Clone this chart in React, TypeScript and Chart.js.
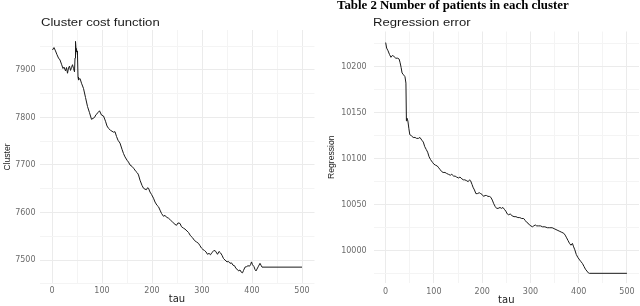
import React, { useEffect, useRef } from "react";
import { Chart, registerables } from "chart.js";

Chart.register(...registerables);

// ---------- data ----------
const clusterTau = [
  1, 4, 7, 10, 13, 16, 19, 22, 24, 27,
  29, 31, 33, 35, 37, 39, 41, 43, 45, 46,
  47, 48, 49, 50, 51, 52, 53, 56, 59, 63,
  67, 71, 75, 79, 82, 85, 88, 92, 95, 99,
  103, 107, 110, 113, 117, 120, 123, 126, 129, 132,
  136, 140, 143, 146, 150, 153, 156, 160, 164, 168,
  171, 173, 176, 180, 183, 186, 189, 191, 193, 196,
  199, 203, 206, 210, 213, 216, 219, 223, 226, 229,
  233, 237, 241, 246, 249, 252, 256, 259, 263, 266,
  270, 273, 277, 281, 285, 289, 293, 296, 299, 302,
  305, 308, 311, 314, 317, 320, 323, 326, 328, 331,
  334, 337, 340, 343, 346, 350, 353, 356, 359, 362,
  365, 368, 371, 373, 376, 378, 381, 383, 386, 389,
  392, 395, 397, 399, 401, 404, 406, 408, 410, 413,
  416, 418, 420, 500,
];
const clusterCost = [
  7942, 7947, 7940, 7932, 7925, 7921, 7912, 7903, 7906, 7898,
  7905, 7893, 7904, 7908, 7899, 7905, 7911, 7903, 7896, 7925,
  7960, 7945, 7938, 7940, 7930, 7885, 7879, 7882, 7872, 7861,
  7842, 7823, 7810, 7796, 7798, 7800, 7806, 7810, 7814, 7805,
  7803, 7792, 7782, 7777, 7773, 7771, 7769, 7770, 7760, 7752,
  7746, 7733, 7724, 7717, 7710, 7706, 7700, 7697, 7692, 7686,
  7683, 7679, 7668, 7657, 7651, 7649, 7648, 7652, 7651, 7643,
  7638, 7630, 7622, 7615, 7612, 7605, 7598, 7592, 7594, 7590,
  7588, 7584, 7580, 7575, 7573, 7578, 7577, 7570, 7567, 7565,
  7561, 7558, 7551, 7547, 7541, 7538, 7535, 7530, 7525, 7522,
  7520, 7517, 7512, 7514, 7511, 7516, 7519, 7520, 7517, 7512,
  7518, 7515, 7510, 7503, 7500, 7496, 7497, 7493, 7494, 7489,
  7488, 7482, 7480, 7477, 7479, 7475, 7473, 7478, 7485, 7486,
  7488, 7487, 7490, 7496, 7490, 7486, 7480, 7477, 7481, 7487,
  7493, 7489, 7485, 7485,
];

const regTau = [
  0, 2, 5, 8, 11, 14, 17, 21, 25, 28,
  30, 32, 34, 37, 40, 42, 43, 44, 46, 48,
  50, 53, 57, 61, 64, 68, 71, 75, 78, 81,
  84, 87, 90, 93, 97, 100, 103, 107, 110, 113,
  116, 119, 123, 126, 130, 134, 137, 141, 144, 147,
  151, 154, 158, 161, 164, 168, 171, 174, 176, 179,
  181, 184, 187, 190, 194, 197, 200, 203, 206, 209,
  212, 215, 218, 221, 224, 227, 230, 233, 237, 240,
  243, 246, 249, 252, 255, 258, 262, 266, 270, 274,
  278, 282, 286, 289, 292, 295, 298, 301, 304, 307,
  310, 313, 317, 321, 325, 330, 335, 340, 345, 349,
  353, 357, 361, 365, 369, 372, 375, 378, 381, 384,
  387, 389, 392, 395, 398, 402, 405, 408, 411, 414,
  417, 420, 422, 500,
];
const regError = [
  10226, 10220, 10217, 10213, 10210, 10212, 10211, 10209, 10209, 10208,
  10204, 10199, 10193, 10191, 10189, 10182, 10141, 10144, 10141, 10133,
  10126, 10125, 10123, 10123, 10122, 10122, 10123, 10120, 10118, 10113,
  10110, 10107, 10102, 10099, 10096, 10094, 10093, 10092, 10090, 10088,
  10086, 10085, 10085, 10084, 10083, 10082, 10083, 10081, 10081, 10080,
  10079, 10080, 10078, 10077, 10077, 10076, 10075, 10077, 10076, 10072,
  10069, 10066, 10062, 10062, 10063, 10062, 10061, 10059, 10060, 10060,
  10059, 10059, 10058, 10055, 10051, 10048, 10046, 10046, 10047, 10046,
  10047, 10045, 10043, 10040, 10039, 10040, 10038, 10037, 10037, 10036,
  10036, 10035, 10035, 10033, 10031, 10030, 10028, 10027, 10026, 10027,
  10028, 10027, 10027, 10027, 10026, 10026, 10025, 10025, 10025, 10024,
  10023, 10022, 10021, 10020, 10019, 10017, 10014, 10011, 10008, 10006,
  10008, 10005, 10001, 9996, 9993, 9990, 9988, 9986, 9983, 9980,
  9978, 9976, 9975.5, 9975.5,
];

const xTicks = [0, 50, 100, 150, 200, 250, 300, 350, 400, 450, 500];
const xLabels = [0, 100, 200, 300, 400, 500];
const clusterYTicks = [7450, 7500, 7550, 7600, 7650, 7700, 7750, 7800, 7850, 7900, 7950];
const clusterYLabels = [7500, 7600, 7700, 7800, 7900];
const regYTicks = [9975, 10000, 10025, 10050, 10075, 10100, 10125, 10150, 10175, 10200, 10225];
const regYLabels = [10000, 10050, 10100, 10150, 10200];

const MAJOR = "#ebebeb";
const MINOR = "#f4f4f4";
const TICK_COLOR = "#6b6b6b";
const tickFont = { family: "DejaVu Sans", size: 8 };

type PanelProps = {
  left: number;
  tau: number[];
  values: number[];
  yMin: number;
  yMax: number;
  yTicks: number[];
  yLabels: number[];
  yTitle: string;
  padTop: number;
  padRight: number;
  yWidth: number;
  xHeight: number;
  yTickPad: number;
  xTickPad: number;
  yTitlePad: number;
  xTitlePad: number;
};

function Panel(p: PanelProps) {
  const ref = useRef<HTMLCanvasElement>(null);
  useEffect(() => {
    const chart = new Chart(ref.current as HTMLCanvasElement, {
      type: "line",
      data: {
        datasets: [
          {
            data: p.tau.map((t, i) => ({ x: t, y: p.values[i] })),
            borderColor: "#1a1a1a",
            borderWidth: 1,
            pointRadius: 0,
            fill: false,
            tension: 0,
          },
        ],
      },
      options: {
        animation: false,
        responsive: false,
        maintainAspectRatio: false,
        layout: { padding: { top: p.padTop, right: p.padRight, left: 0, bottom: 0 } },
        plugins: {
          legend: { display: false },
          tooltip: { enabled: false },
          title: { display: false },
        },
        scales: {
          x: {
            type: "linear",
            min: -25,
            max: 525,
            afterBuildTicks: (s: any) => {
              s.ticks = xTicks.map((v) => ({ value: v }));
            },
            afterFit: (s: any) => {
              s.height = p.xHeight;
            },
            ticks: {
              autoSkip: false,
              maxRotation: 0,
              padding: p.xTickPad,
              font: tickFont,
              color: TICK_COLOR,
              callback: (v: any) => (xLabels.includes(Number(v)) ? String(v) : ""),
            },
            grid: {
              drawTicks: false,
              lineWidth: 1,
              color: (c: any) => (c.tick && xLabels.includes(c.tick.value) ? MAJOR : MINOR),
            },
            border: { display: false },
            title: {
              display: true,
              text: "tau",
              color: "#222222",
              font: { family: "DejaVu Sans", size: 10 },
              padding: { top: 0, bottom: p.xTitlePad },
            },
          },
          y: {
            type: "linear",
            min: p.yMin,
            max: p.yMax,
            afterBuildTicks: (s: any) => {
              s.ticks = p.yTicks.map((v) => ({ value: v }));
            },
            afterFit: (s: any) => {
              s.width = p.yWidth;
            },
            ticks: {
              autoSkip: false,
              padding: p.yTickPad,
              font: tickFont,
              color: TICK_COLOR,
              callback: (v: any) => (p.yLabels.includes(Number(v)) ? String(v) : ""),
            },
            grid: {
              drawTicks: false,
              lineWidth: 1,
              color: (c: any) => (c.tick && p.yLabels.includes(c.tick.value) ? MAJOR : MINOR),
            },
            border: { display: false },
            title: {
              display: true,
              text: p.yTitle,
              color: "#222222",
              font: { family: "Liberation Sans", size: 8.6 },
              padding: { top: p.yTitlePad, bottom: 0 },
            },
          },
        },
      },
    });
    return () => chart.destroy();
  }, []);
  return (
    <canvas
      ref={ref}
      width={320}
      height={306}
      style={{ position: "absolute", left: p.left, top: 0, width: 320, height: 306 }}
    />
  );
}

const titleStyle: React.CSSProperties = {
  position: "absolute",
  fontFamily: "'Liberation Sans', Arial, sans-serif",
  fontSize: 10,
  lineHeight: "10px",
  color: "#1a1a1a",
  whiteSpace: "nowrap",
  transform: "scaleX(1.31)",
  transformOrigin: "left top",
};

export default function App() {
  return (
    <div
      style={{
        position: "fixed",
        left: 0,
        top: 0,
        width: 640,
        height: 306,
        background: "#ffffff",
        overflow: "hidden",
      }}
    >
      <Panel
        left={0}
        tau={clusterTau}
        values={clusterCost}
        yMin={7449.5}
        yMax={7984}
        yTicks={clusterYTicks}
        yLabels={clusterYLabels}
        yTitle="Cluster"
        padTop={30}
        padRight={5.5}
        yWidth={39.5}
        xHeight={22}
        yTickPad={4}
        xTickPad={2.4}
        yTitlePad={2}
        xTitlePad={0.3}
      />
      <Panel
        left={320}
        tau={regTau}
        values={regError}
        yMin={9965}
        yMax={10238}
        yTicks={regYTicks}
        yLabels={regYLabels}
        yTitle="Regression"
        padTop={31.5}
        padRight={1}
        yWidth={53.6}
        xHeight={23}
        yTickPad={7}
        xTickPad={4.2}
        yTitlePad={6.3}
        xTitlePad={0}
      />
      <div style={{ ...titleStyle, left: 40.7, top: 17.5 }}>Cluster cost function</div>
      <div style={{ ...titleStyle, left: 373.3, top: 18 }}>Regression error</div>
      <div
        style={{
          position: "absolute",
          left: 336.7,
          top: -0.3,
          fontFamily: "'Liberation Serif', 'Times New Roman', serif",
          fontWeight: "bold",
          fontSize: 11.5,
          lineHeight: "11.5px",
          color: "#000000",
          whiteSpace: "nowrap",
          transform: "scaleX(1.117)",
          transformOrigin: "left top",
        }}
      >
        Table 2 Number of patients in each cluster
      </div>
    </div>
  );
}
